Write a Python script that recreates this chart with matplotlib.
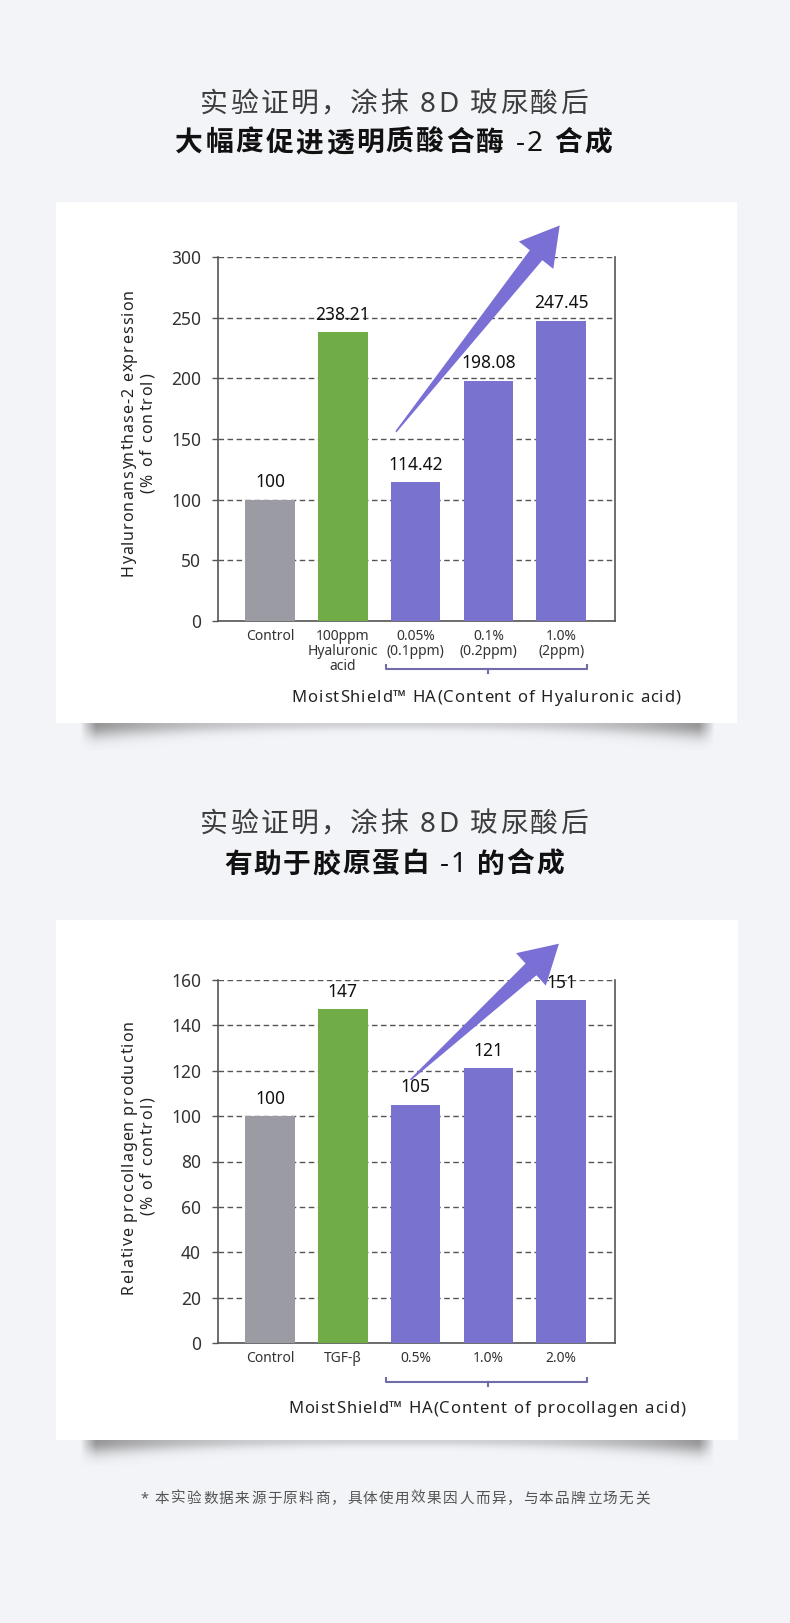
import numpy as np
import matplotlib
matplotlib.use("Agg")
import matplotlib.pyplot as plt
from matplotlib.patches import Rectangle, Polygon
from matplotlib.transforms import IdentityTransform

plt.rcParams['font.family'] = ['Noto Sans', 'Noto Sans CJK SC', 'DejaVu Sans']

# ---- data -------------------------------------------------------------
ha_cats = ["Control", "100ppm\nHyaluronic\nacid", "0.05%\n(0.1ppm)",
           "0.1%\n(0.2ppm)", "1.0%\n(2ppm)"]
ha_vals = [100, 238.21, 114.42, 198.08, 247.45]
ha_labels = ["100", "238.21", "114.42", "198.08", "247.45"]
ha_yticks = [0, 50, 100, 150, 200, 250, 300]

col_cats = ["Control", "TGF-β", "0.5%", "1.0%", "2.0%"]
col_vals = [100, 147, 105, 121, 151]
col_labels = ["100", "147", "105", "121", "151"]
col_yticks = [0, 20, 40, 60, 80, 100, 120, 140, 160]

# ---- style ------------------------------------------------------------
BG = "#f3f4f8"
GRAY = "#9b9ba3"
GREEN = "#70ad47"
PURPLE = "#7a72cf"
ARROW = "#7a6fd4"
BRACKET = "#6f6ca8"
AXIS = "#555555"
TEXT = "#222222"
bar_colors = [GRAY, GREEN, PURPLE, PURPLE, PURPLE]

W, H = 790, 1623
fig = plt.figure(figsize=(W / 100, H / 100), dpi=100, facecolor=BG)
bg = fig.add_axes([0, 0, 1, 1], zorder=0)
bg.set_axis_off()
bg.set_facecolor(BG)
renderer = fig.canvas.get_renderer()


def tracked(s, x, y, target, size, vertical=False, **kw):
    """Place text char by char so that it spans `target` pixels."""
    rot = 90 if vertical else 0

    def ext(txt):
        t = bg.text(0, 0, txt, fontsize=size, rotation=rot,
                    rotation_mode="anchor", **kw)
        bb = t.get_window_extent(renderer)
        t.remove()
        return bb.height if vertical else bb.width

    sp = ext("x x") - ext("xx")
    widths = [sp if ch == " " else ext(ch) for ch in s]
    gap = (target - sum(widths)) / (len(s) - 1)
    pos = 0
    for ch, w in zip(s, widths):
        if ch != " ":
            if vertical:
                bg.text(x, y + target / 2 - pos, ch, fontsize=size, rotation=90,
                        rotation_mode="anchor", ha="left", va="baseline", **kw)
            else:
                bg.text(x - target / 2 + pos, y, ch, fontsize=size,
                        ha="left", va="baseline", **kw)
        pos += w + gap


def shadow(x0, x1, y0, y1):
    w, h = int(x1 - x0), int(y1 - y0)
    U, V = np.meshgrid(np.linspace(-1, 1, w), np.linspace(0, 1, h))
    edge = 0.30 + 0.60 * np.abs(U) ** 3
    taper = np.clip((1 - np.abs(U)) / 0.05, 0, 1)
    thick = 0.35 + 0.55 * np.abs(U) ** 2
    vert = np.exp(-2.5 * (V / thick) ** 2)
    img = np.zeros((h, w, 4))
    img[..., :3] = 0.42
    img[..., 3] = 0.85 * edge * taper * vert
    bg.imshow(img, extent=(x0, x1, y1, y0), origin="upper", aspect="auto",
              interpolation="bilinear", zorder=0.5)


def chart(top, bottom, cats, vals, labels, yticks, arrow, brk_y, card, shadow_y):
    # card + shadow
    cx0, cy0, cx1, cy1 = card
    shadow(80, 715, cy1, shadow_y)
    bg.add_patch(Rectangle((cx0, cy0), cx1 - cx0, cy1 - cy0, facecolor="white",
                           edgecolor="none", zorder=1))

    ax = fig.add_axes([218 / W, 1 - bottom / H, 397 / W, (bottom - top) / H],
                      zorder=2)
    ax.patch.set_alpha(0)
    x = np.arange(len(cats))
    ax.bar(x, vals, width=0.68, color=bar_colors, zorder=3)
    for xi, v, lab in zip(x, vals, labels):
        ax.annotate(lab, (xi, v), xytext=(0, 6), textcoords="offset points",
                    ha="center", va="bottom", fontsize=12.5, color="#111111")
    ax.set_xlim(-0.715, 4.74)
    ax.set_ylim(0, yticks[-1])
    ax.set_yticks(yticks)
    ax.set_xticks(x)
    ax.set_xticklabels(cats, fontsize=10, color="#333333", linespacing=1.0)
    ax.tick_params(axis="x", length=0, pad=6)
    ax.tick_params(axis="y", length=4.3, width=1, color=AXIS, pad=8,
                   labelsize=12.5, labelcolor="#333333")
    ax.yaxis.grid(True, linestyle=(0, (4, 2.5)), color="#555555", linewidth=1)
    ax.set_axisbelow(True)
    ax.spines["top"].set_visible(False)
    for s in ("left", "bottom", "right"):
        ax.spines[s].set_color(AXIS)
        ax.spines[s].set_linewidth(1.2)

    # tapered arrow in pixel space
    p0 = ax.transData.transform(arrow[0])
    p1 = ax.transData.transform(arrow[1])
    d = (p1 - p0) / np.hypot(*(p1 - p0))
    n = np.array([-d[1], d[0]])
    base = p1 - 38 * d
    pts = [p0 + n * 0.8, base + n * 8, base + n * 22, p1,
           base - n * 22, base - n * 8, p0 - n * 0.8]
    ax.add_patch(Polygon(pts, closed=True, facecolor=ARROW, edgecolor="none",
                         transform=IdentityTransform(), clip_on=False, zorder=5))

    # bracket under the MoistShield group
    bx0 = ax.transData.transform((x[2] - 0.4, 0))[0]
    bx1 = ax.transData.transform((x[4] + 0.35, 0))[0]
    bxm = ax.transData.transform((x[3], 0))[0]
    bg.plot([bx0, bx0, bx1, bx1], [brk_y - 5, brk_y, brk_y, brk_y - 5],
            color=BRACKET, lw=1.5, zorder=2, solid_capstyle="butt")
    bg.plot([bxm, bxm], [brk_y, brk_y + 4], color=BRACKET, lw=1.5, zorder=2)
    return ax


# ---- titles ----------------------------------------------------------
tracked("实验证明，涂抹 8D 玻尿酸后", 394, 112, 387, 20, color="#3d3d3d", zorder=3)
tracked("大幅度促进透明质酸合酶 -2 合成", 394, 151, 437, 20, color="#111111",
        fontweight="bold", zorder=3)
tracked("实验证明，涂抹 8D 玻尿酸后", 394, 832, 387, 20, color="#3d3d3d", zorder=3)
tracked("有助于胶原蛋白 -1 的合成", 394, 872.5, 340, 20, color="#111111",
        fontweight="bold", zorder=3)

# ---- chart 1 ---------------------------------------------------------
chart(257, 621, ha_cats, ha_vals, ha_labels, ha_yticks,
      ((1.73, 156), (3.98, 326)), 669, (56, 202, 737, 723), 750)
tracked("Hyaluronansynthase-2 expression", 133, 433, 287, 11.5, vertical=True,
        color=TEXT, zorder=3)
tracked("(% of control)", 152, 433, 120, 11.5, vertical=True, color=TEXT, zorder=3)
tracked("MoistShield™ HA(Content of Hyaluronic acid)", 486, 701.5, 389, 12,
        color=TEXT, zorder=3)

# ---- chart 2 ---------------------------------------------------------
chart(980, 1343, col_cats, col_vals, col_labels, col_yticks,
      ((1.93, 116), (3.97, 176)), 1382, (56, 920, 738, 1440), 1466)
tracked("Relative procollagen production", 133, 1157, 273, 11.5, vertical=True,
        color=TEXT, zorder=3)
tracked("(% of control)", 152, 1156, 118, 11.5, vertical=True, color=TEXT, zorder=3)
tracked("MoistShield™ HA(Content of procollagen acid)", 486.5, 1413, 397, 12,
        color=TEXT, zorder=3)

# ---- footnote --------------------------------------------------------
tracked("* 本实验数据来源于原料商，具体使用效果因人而异，与本品牌立场无关", 395, 1502.5,
        509, 10.5, color="#555555", zorder=3)

bg.set_xlim(0, W)
bg.set_ylim(H, 0)
fig.savefig("out.png", dpi=100, facecolor=BG)
